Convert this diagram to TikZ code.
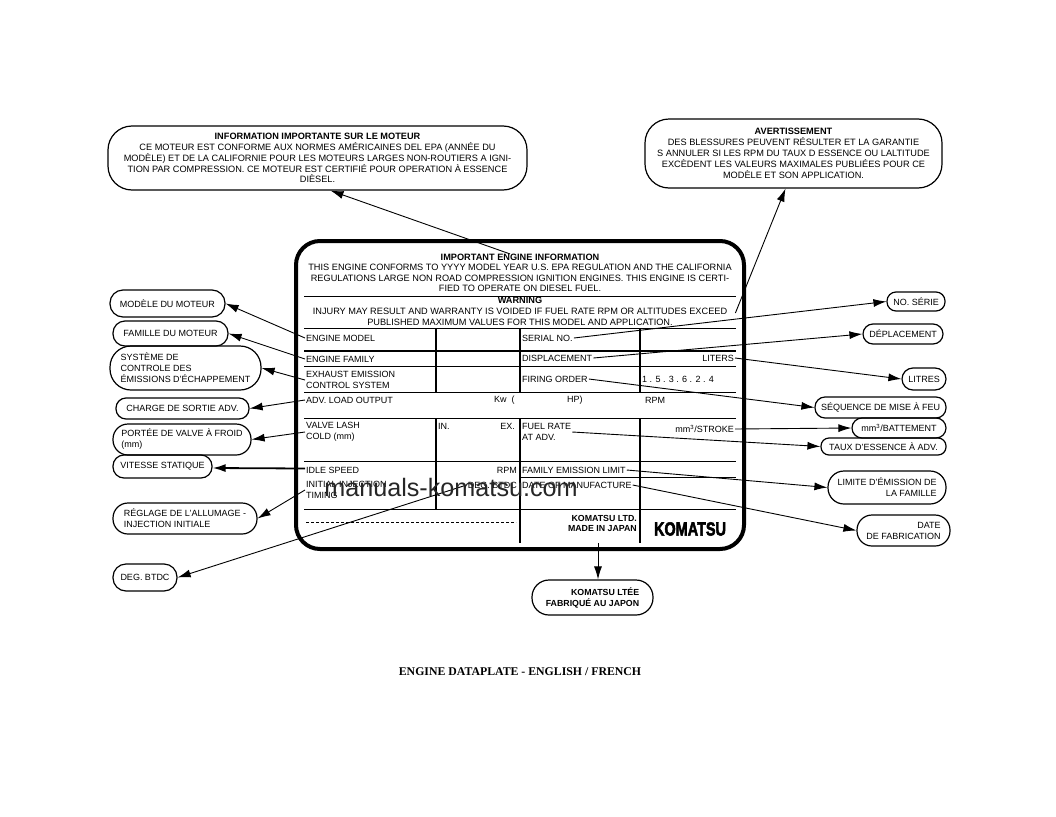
\documentclass[tikz,border=0pt]{standalone}
\usepackage{fontspec}
\setmainfont{Liberation Sans}
\newfontfamily\capfont{Liberation Serif}
\newfontfamily\logofont[BoldFeatures={FakeBold=3}]{Liberation Sans}
\usetikzlibrary{arrows.meta}

\tikzset{
  rule/.style={line width=0.9pt},
  heavy/.style={line width=2pt},
  lead/.style={line width=0.9pt, -{Latex[length=13pt,width=8pt]}},
  cell/.style={anchor=west, inner sep=1pt, align=left, font=\fontsize{9}{10.8}\selectfont},
  cellr/.style={anchor=east, inner sep=1pt, align=right, font=\fontsize{9}{10.8}\selectfont},
  body/.style={inner sep=0pt, align=center, font=\fontsize{9.2}{10.4}\selectfont},
  bubble/.style={draw, line width=1.2pt, inner sep=0pt, align=left, font=\fontsize{9}{11}\selectfont},
}

\begin{document}
\begin{tikzpicture}[x=1pt, y=-1pt]
\useasboundingbox (0,0) rectangle (1056,816);

% dataplate
\node[draw, line width=4pt, rounded corners=24pt, minimum width=448pt, minimum height=308pt] (plate) at (520,395) {};
\node[body] (intro) at (520,273) {\textbf{IMPORTANT ENGINE INFORMATION}\\THIS ENGINE CONFORMS TO YYYY MODEL YEAR U.S. EPA REGULATION AND THE CALIFORNIA\\REGULATIONS LARGE NON ROAD COMPRESSION IGNITION ENGINES. THIS ENGINE IS CERTI-\\FIED TO OPERATE ON DIESEL FUEL.};
\node[body] (warnhead) at (520,300) {\textbf{WARNING}};
\node[body] (warnbody) at (520,317) {INJURY MAY RESULT AND WARRANTY IS VOIDED IF FUEL RATE RPM OR ALTITUDES EXCEED\\PUBLISHED MAXIMUM VALUES FOR THIS MODEL AND APPLICATION.};

% table rules
\foreach \y in {296,328,366,392,418,461,509}
  \draw[rule] (304,\y) -- (736,\y);
\draw[heavy] (304,351) -- (736,351);
\draw[rule] (520,477) -- (736,477);
\draw[rule, dashed, dash pattern=on 3pt off 2pt] (306,522) -- (516,522);
\foreach \x/\y in {436/509,520/543,640/543} {
  \draw[heavy] (\x,328) -- (\x,392);
  \draw[heavy] (\x,418) -- (\x,\y);
}

% left column
\node[cell] (model) at (305,338) {ENGINE MODEL};
\node[cell] (family) at (305,359) {ENGINE FAMILY};
\node[cell] (exhaust) at (305,380) {EXHAUST EMISSION\\CONTROL SYSTEM};
\node[cell] (load) at (305,400) {ADV. LOAD OUTPUT};
\node[cell] (lash) at (305,432) {VALVE LASH\\COLD (mm)};
\node[cell] (idle) at (305,470) {IDLE SPEED};
\node[cell] (timing) at (305,490) {INITIAL INJECTION\\TIMING};
% middle cells
\node[cell] (kw) at (493,400) {Kw \ (};
\node[cell] (hp) at (566,400) {HP)};
\node[cell] (rpma) at (644,400) {RPM};
\node[cell] (intake) at (437,426) {IN.};
\node[cellr] (exh) at (516,426) {EX.};
\node[cellr] (rpmb) at (518,470) {RPM};
\node[cellr] (btdc) at (518,485) {DEG. BTDC};
% right column
\node[cell] (serial) at (521,338) {SERIAL NO.};
\node[cell] (displ) at (521,358) {DISPLACEMENT};
\node[cell] (firing) at (521,379) {FIRING ORDER};
\node[cell] (order) at (641,379) {1 . 5 . 3 . 6 . 2 . 4};
\node[cellr] (liters) at (735,358) {LITERS};
\node[cell] (rate) at (521,432) {FUEL RATE\\AT ADV.};
\node[cellr] (stroke) at (735,429) {mm\textsuperscript{3}/STROKE};
\node[cell] (limit) at (521,470) {FAMILY EMISSION LIMIT};
\node[cell] (manuf) at (521,485) {DATE OF MANUFACTURE};
\node[cellr, font=\fontsize{8.8}{10}\bfseries] (maker) at (638,523) {KOMATSU LTD.\\MADE IN JAPAN};
\node[inner sep=0pt, xscale=0.76, font=\logofont\fontsize{19}{19}\bfseries] (logo) at (690,529) {KOMATSU};
\coordinate (makerfoot) at (598,543);

% bubbles, left side
\node[bubble, minimum width=419pt, minimum height=64pt, rounded corners=24pt, align=center, font=\fontsize{9.2}{10.9}\selectfont] (infobox) at (317.5,158) {\textbf{INFORMATION IMPORTANTE SUR LE MOTEUR}\\CE MOTEUR EST CONFORME AUX NORMES AMÉRICAINES DEL EPA (ANNÉE DU\\MODÈLE) ET DE LA CALIFORNIE POUR LES MOTEURS LARGES NON-ROUTIERS A IGNI-\\TION PAR COMPRESSION. CE MOTEUR EST CERTIFIÉ POUR OPERATION À ESSENCE\\DIÈSEL.};
\node[bubble, minimum width=115pt, minimum height=27pt, rounded corners=13pt] (bmodel) at (167.5,303.5) {MODÈLE DU MOTEUR};
\node[bubble, minimum width=115pt, minimum height=25pt, rounded corners=12pt] (bfamily) at (170.5,333.5) {FAMILLE DU MOTEUR};
\node[bubble, minimum width=151pt, minimum height=44pt, rounded corners=21pt] (bexhaust) at (185.5,368) {SYSTÈME DE\\CONTROLE DES\\ÉMISSIONS D'ÉCHAPPEMENT};
\node[bubble, minimum width=133pt, minimum height=21pt, rounded corners=10pt] (bload) at (182.5,408.5) {CHARGE DE SORTIE ADV.};
\node[bubble, minimum width=138pt, minimum height=31pt, rounded corners=15pt] (blash) at (182,439.5) {PORTÉE DE VALVE À FROID\\(mm)};
\node[bubble, minimum width=99pt, minimum height=23pt, rounded corners=11pt] (bidle) at (162.5,466.5) {VITESSE STATIQUE};
\node[bubble, minimum width=144pt, minimum height=31pt, rounded corners=15pt] (btiming) at (185,518.5) {RÉGLAGE DE L'ALLUMAGE -\\INJECTION INITIALE};
\node[bubble, minimum width=64pt, minimum height=27pt, rounded corners=13pt] (bbtdc) at (145,577.5) {DEG. BTDC};

% bubbles, right side
\node[bubble, minimum width=297pt, minimum height=69pt, rounded corners=24pt, align=center, font=\fontsize{9.2}{10.9}\selectfont] (warnbox) at (793.5,153.5) {\textbf{AVERTISSEMENT}\\DES BLESSURES PEUVENT RÉSULTER ET LA GARANTIE\\S ANNULER SI LES RPM DU TAUX D ESSENCE OU LALTITUDE\\EXCÈDENT LES VALEURS MAXIMALES PUBLIÉES POUR CE\\MODÈLE ET SON APPLICATION.};
\node[bubble, minimum width=58pt, minimum height=19pt, rounded corners=9pt] (bserial) at (916,301.5) {NO. SÉRIE};
\node[bubble, minimum width=80pt, minimum height=20pt, rounded corners=10pt] (bdispl) at (903,334) {DÉPLACEMENT};
\node[bubble, minimum width=44pt, minimum height=22pt, rounded corners=11pt] (bliters) at (924,379) {LITRES};
\node[bubble, minimum width=131pt, minimum height=21pt, rounded corners=10pt] (bfiring) at (880.5,407.5) {SÉQUENCE DE MISE À FEU};
\node[bubble, minimum width=94pt, minimum height=20pt, rounded corners=10pt] (bstroke) at (899,428) {mm\textsuperscript{3}/BATTEMENT};
\node[bubble, minimum width=125pt, minimum height=17pt, rounded corners=8pt] (brate) at (883.5,446.5) {TAUX D'ESSENCE À ADV.};
\node[bubble, minimum width=118pt, minimum height=33pt, rounded corners=16pt, align=right] (blimit) at (887,487.5) {LIMITE D'ÉMISSION DE\\LA FAMILLE};
\node[bubble, minimum width=93pt, minimum height=31pt, rounded corners=15pt, align=right] (bmanuf) at (903.5,530.5) {DATE\\DE FABRICATION};
\node[bubble, minimum width=121pt, minimum height=35pt, rounded corners=17pt, align=right, font=\fontsize{8.8}{11}\bfseries] (bmaker) at (592.5,597.5) {KOMATSU LTÉE\\FABRIQUÉ AU JAPON};

% leaders
\draw[lead] ([xshift=-10pt]intro.north) -- ([xshift=13pt]infobox.south);
\draw[lead] ([xshift=8pt,yshift=4pt]warnbody.east) -- ([xshift=-8pt]warnbox.south);
\draw[lead] (model.west) -- (bmodel.east);
\draw[lead] (family.west) -- (bfamily.east);
\draw[lead] (exhaust.west) -- (bexhaust.east);
\draw[lead] (load.west) -- (bload.east);
\draw[lead] (lash.west) -- (blash.east);
\draw[lead, line width=1.8pt] ([yshift=1.5pt]idle.west) -- ([yshift=-1.5pt]bidle.east);
\draw[lead] (timing.west) -- (btiming.east);
\draw[lead] (btdc.west) -- (bbtdc.east);
\draw[lead] (serial.east) -- (bserial.west);
\draw[lead] (displ.east) -- (bdispl.west);
\draw[lead] (liters.east) -- (bliters.west);
\draw[lead] (firing.east) -- (bfiring.west);
\draw[lead] (stroke.east) -- (bstroke.west);
\draw[lead] (rate.east) -- (brate.west);
\draw[lead] (limit.east) -- (blimit.west);
\draw[lead] (manuf.east) -- (bmanuf.west);
\draw[lead] (makerfoot) -- ([xshift=5.5pt]bmaker.north);

\node[inner sep=0pt, font=\capfont\fontsize{11.8}{13}\bfseries] (caption) at (520,672) {ENGINE DATAPLATE - ENGLISH / FRENCH};
\node[inner sep=0pt, text=black!85, font=\fontsize{25.2}{27}\selectfont] (mark) at (451,487) {manuals-komatsu.com};
\end{tikzpicture}
\end{document}
